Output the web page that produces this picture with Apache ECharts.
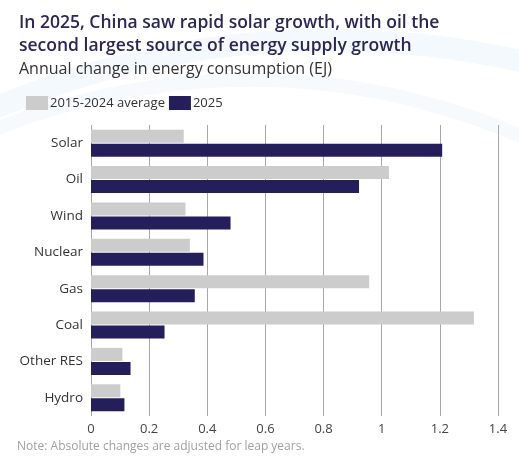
<!DOCTYPE html>
<html lang="en">
<head>
    <meta charset="UTF-8">
    <title>China energy supply growth</title>
    <script src="https://cdn.jsdelivr.net/npm/echarts@6/dist/echarts.min.js"></script>
    <style>
        html, body { margin: 0; padding: 0; background: #fff; }
        #main { width: 519px; height: 473px; }
    </style>
</head>
<body>
<div id="main"></div>
<script type="text/javascript">
    var categories = ['Solar', 'Oil', 'Wind', 'Nuclear', 'Gas', 'Coal', 'Other RES', 'Hydro'];
    var avg2015_2024 = [0.319, 1.025, 0.325, 0.34, 0.957, 1.317, 0.108, 0.101];
    var values2025 = [1.208, 0.922, 0.48, 0.387, 0.357, 0.253, 0.136, 0.115];
    var xTicks = [0, 0.2, 0.4, 0.6, 0.8, 1, 1.2, 1.4];

    var font = '"Open Sans", "Noto Sans", sans-serif';
    var myChart = echarts.init(document.getElementById('main'), null, {renderer: 'canvas'});

    var option = {
        backgroundColor: '#fff',
        textStyle: {fontFamily: font},
        animation: false,
        graphic: [
            // faint background arcs
            {
                type: 'arc', z: -10, silent: true,
                shape: {cx: 330, cy: 900, r: 860, startAngle: -Math.PI * 0.75, endAngle: -Math.PI * 0.25},
                style: {stroke: '#f3f9fc', lineWidth: 22, fill: null}
            },
            {
                type: 'arc', z: -10, silent: true,
                shape: {cx: 250, cy: 760, r: 680, startAngle: -Math.PI * 0.8, endAngle: -Math.PI * 0.2},
                style: {stroke: '#f6fafd', lineWidth: 14, fill: null}
            },
            {
                type: 'text', left: 19, top: 12,
                style: {
                    text: 'In 2025, China saw rapid solar growth, with oil the\nsecond largest source of energy supply growth',
                    fill: '#2b2655', font: '600 17.5px ' + font, lineHeight: 23
                }
            },
            {
                type: 'text', left: 19, top: 61,
                style: {
                    text: 'Annual change in energy consumption (EJ)',
                    fill: '#333', font: '16px ' + font
                }
            },
            {
                type: 'text', left: 17, top: 441,
                style: {
                    text: 'Note: Absolute changes are adjusted for leap years.',
                    fill: '#a0a0a0', font: '12px ' + font
                }
            }
        ],
        legend: {
            left: 21,
            top: 91,
            itemWidth: 22,
            itemHeight: 14,
            itemGap: 4,
            icon: 'rect',
            textStyle: {color: '#333', fontSize: 13, padding: [0, 0, 0, -3]},
            data: ['2015-2024 average', '2025']
        },
        grid: {
            left: 91,
            right: 21,
            top: 125,
            bottom: 57,
            containLabel: false
        },
        xAxis: {
            type: 'value',
            min: 0,
            max: 1.4,
            interval: 0.2,
            axisLine: {show: false},
            axisTick: {show: false},
            splitLine: {show: true, lineStyle: {color: '#a8a8a8', width: 1}},
            axisLabel: {
                color: '#444',
                fontSize: 13,
                margin: 7,
                formatter: function (v) {
                    var hit = xTicks.filter(function (t) { return Math.abs(t - v) < 1e-9; });
                    return hit.length ? String(hit[0]) : '';
                }
            }
        },
        yAxis: {
            type: 'category',
            inverse: true,
            data: categories,
            axisLine: {show: false},
            axisTick: {show: false},
            axisLabel: {color: '#333', fontSize: 13.5, margin: 8}
        },
        series: [
            {
                name: '2015-2024 average',
                type: 'bar',
                data: avg2015_2024,
                barWidth: 13,
                barGap: '8%',
                itemStyle: {color: '#cccccc'}
            },
            {
                name: '2025',
                type: 'bar',
                data: values2025,
                barWidth: 13,
                itemStyle: {color: '#241e5a'}
            }
        ]
    };
    myChart.setOption(option);
</script>
</body>
</html>
